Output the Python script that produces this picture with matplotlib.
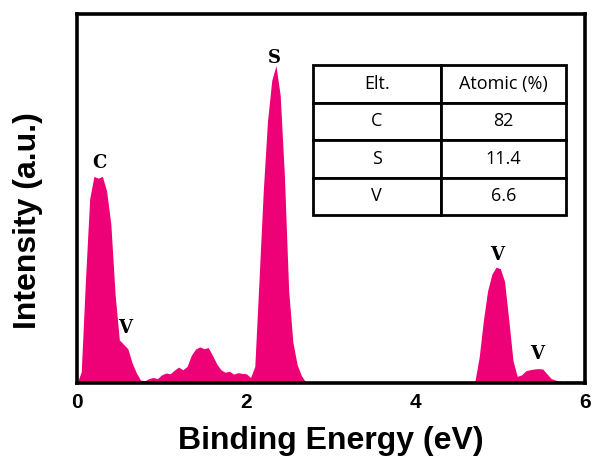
import matplotlib
matplotlib.use("Agg")
import matplotlib.pyplot as plt
import numpy as np

# ---- data ----
energy_step = 0.05
energy = np.round(np.arange(0, 6.0001, energy_step), 3)

intensity = [
    0.0, 3.0, 28.0, 50.0, 56.0, 55.5, 56.0, 52.0, 43.0, 24.0,   # 0.00-0.45
    11.7, 10.5, 9.3, 5.5, 2.8, 0.8, 0.6, 1.2, 1.5, 1.2,         # 0.50-0.95
    2.2, 2.7, 2.5, 3.5, 4.3, 3.6, 4.5, 7.5, 9.2, 9.8,           # 1.00-1.45
    9.3, 9.6, 7.5, 5.2, 3.6, 2.9, 3.2, 2.4, 2.8, 2.6,           # 1.50-1.95
    2.5, 1.5, 4.5, 28.0, 52.0, 71.0, 82.0, 86.0, 78.0, 56.0,    # 2.00-2.45
    25.0, 11.0, 5.0, 2.0, 0.3, 0.2, 0.3, 0.2, 0.3, 0.2,         # 2.50-2.95
    0.3, 0.2, 0.3, 0.2, 0.2, 0.3, 0.2, 0.3, 0.2, 0.3,           # 3.00-3.45
    0.2, 0.3, 0.2, 0.3, 0.2, 0.2, 0.3, 0.2, 0.3, 0.2,           # 3.50-3.95
    0.3, 0.2, 0.3, 0.2, 0.3, 0.2, 0.3, 0.2, 0.3, 0.2,           # 4.00-4.45
    0.3, 0.2, 0.3, 0.2, 0.5, 7.0, 17.0, 25.0, 29.5, 31.4,       # 4.50-4.95
    31.0, 27.5, 17.0, 6.0, 1.8, 2.2, 3.3, 3.6, 3.8, 3.9,        # 5.00-5.45
    3.8, 2.5, 1.2, 0.8, 0.5, 0.4, 0.5, 0.4, 0.5, 0.4,           # 5.50-5.95
    0.3,                                                         # 6.00
]

peak_labels = ["C", "V", "S", "V", "V"]
peak_label_x = [0.27, 0.57, 2.33, 4.96, 5.44]
peak_label_y = [59.5, 15.0, 88.0, 34.7, 7.8]

table_header = ["Elt.", "Atomic (%)"]
table_elements = ["C", "S", "V"]
table_atomic = ["82", "11.4", "6.6"]

x_ticks = [0, 2, 4, 6]

# ---- figure ----
fig = plt.figure(figsize=(5.95, 4.63), dpi=100)
ax = fig.add_axes([77/595, 1 - 383/463, 508/595, 369/463])

color = "#EE0077"
ax.fill_between(energy, 0, intensity, color=color, linewidth=0)

ax.set_xlim(0, 6)
ax.set_ylim(0, 100)
ax.set_xticks(x_ticks)
ax.set_xticklabels([str(t) for t in x_ticks], fontsize=15, fontweight="bold",
                   family=["Liberation Sans", "DejaVu Sans"])
ax.set_yticks([])
ax.tick_params(axis="x", length=0, pad=7)
for s in ax.spines.values():
    s.set_linewidth(2.6)

ax.set_xlabel("Binding Energy (eV)", fontsize=23, fontweight="bold",
              family=["Liberation Sans", "DejaVu Sans"], labelpad=10)
ax.set_ylabel("Intensity (a.u.)", fontsize=23, fontweight="bold",
              family=["Liberation Sans", "DejaVu Sans"])
ax.yaxis.set_label_coords(-0.066, 0.44)

for lab, lx, ly in zip(peak_labels, peak_label_x, peak_label_y):
    ax.text(lx, ly, lab, ha="center", va="center", fontsize=13,
            fontweight="bold", family=["DejaVu Serif"])

cell_text = [[e, a] for e, a in zip(table_elements, table_atomic)]
x0 = (312.5 - 77) / 508
x1 = (566 - 77) / 508
y0 = (383 - 215) / 369
y1 = (383 - 65) / 369
tbl = ax.table(cellText=cell_text, colLabels=table_header,
               cellLoc="center", bbox=[x0, y0, x1 - x0, y1 - y0])
tbl.auto_set_font_size(False)
for (r, c), cell in tbl.get_celld().items():
    cell.set_linewidth(2.0)
    cell.set_edgecolor("black")
    cell.get_text().set_fontsize(13)
    cell.get_text().set_family(["Open Sans", "DejaVu Sans"])
# column split position
split = (441 - 312.5) / (566 - 312.5)
for (r, c), cell in tbl.get_celld().items():
    cell.set_width((x1 - x0) * (split if c == 0 else 1 - split))

fig.savefig("out.png", dpi=100)
